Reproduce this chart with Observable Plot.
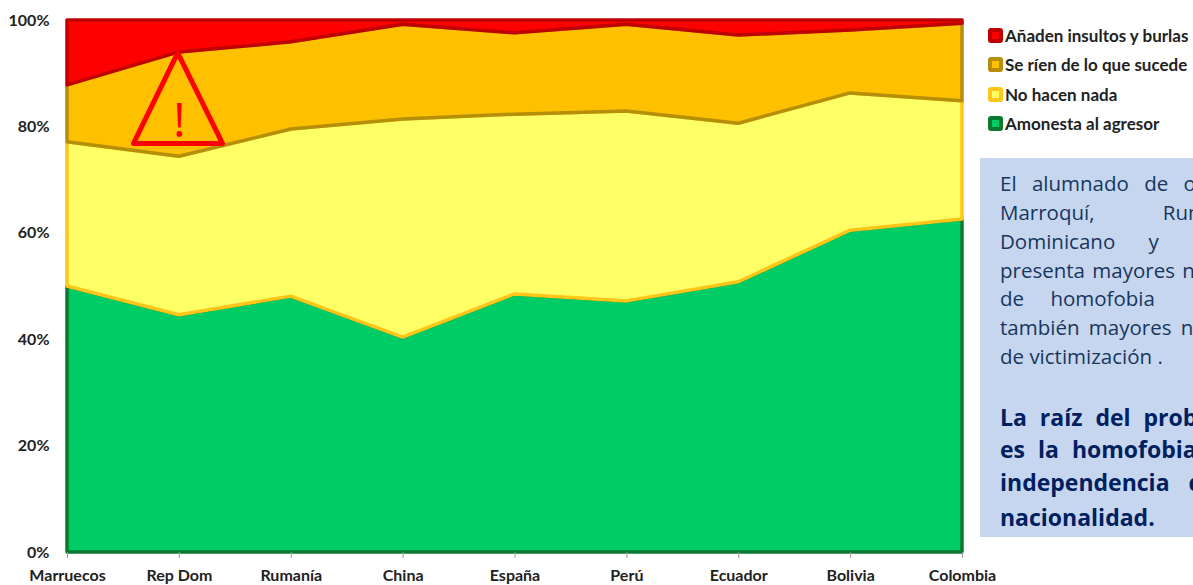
<!DOCTYPE html>
<html lang="es">
<head>
<meta charset="utf-8">
<script src="https://cdn.jsdelivr.net/npm/d3@7"></script>
<script src="https://cdn.jsdelivr.net/npm/@observablehq/plot@0.6"></script>
<style>
html,body{margin:0;padding:0;background:#fff;width:1193px;height:585px;overflow:hidden}
#wrap{position:relative;width:1193px;height:585px;overflow:hidden}
#chart svg{display:block}
#legend{position:absolute;left:988px;top:21px;font:700 17px Lato,sans-serif;color:#222}
.row{display:flex;align-items:center;height:29.3px;white-space:nowrap}
.sw{box-sizing:border-box;width:15px;height:15px;border-width:4px;border-style:solid;border-radius:3px;margin-right:2px;flex:none}
#box{position:absolute;left:980px;top:158px;width:260px;height:379px;background:#c6d6ee}
.l{position:absolute;left:20px;white-space:nowrap}
.n{font:400 20.5px/20px "Open Sans",sans-serif;color:#17375e}
.b{font:700 23px/24px "Open Sans",sans-serif;color:#002060}
</style>
</head>
<body>
<div id="wrap"><div id="chart"></div><div id="legend"></div><div id="box"></div></div>
<script>
const paises = ["Marruecos","Rep Dom","Rumanía","China","España","Perú","Ecuador","Bolivia","Colombia"];
const amonesta = [50.0,44.6,48.1,40.4,48.5,47.2,50.8,60.5,62.6];
const noHacen  = [27.1,29.8,31.4,41.0,33.8,35.7,29.8,25.8,22.2];
const seRien   = [10.7,19.6,16.4,17.8,15.3,16.3,16.6,11.8,14.6];
const anaden   = [12.2, 6.0, 4.1, 0.8, 2.4, 0.8, 2.8, 1.9, 0.6];
const pctTicks = [0,20,40,60,80,100];

const seriesNames = ["Amonesta al agresor","No hacen nada","Se ríen de lo que sucede","Añaden insultos y burlas"];
const seriesValues = [amonesta,noHacen,seRien,anaden];
const fills   = ["#00cc66","#ffff66","#ffc000","#ff0000"];
const strokes = ["#0b7a30","#ffc61a","#b58f0a","#c00000"];

const rows = seriesNames.flatMap((s,k)=>paises.map((p,i)=>({serie:s,k,i,v:seriesValues[k][i]})));

// Triangle annotation, in chart units (country index, percent)
const triX = [0.985,0.59,1.385,0.985];
const triY = [93.9,76.9,76.9,93.9];
const triangulo = triX.map((x,i)=>({x,y:triY[i]}));

const plot = Plot.plot({
  width:1193,height:585,marginLeft:67,marginRight:231,marginTop:20,marginBottom:33,
  style:{fontFamily:"Lato, sans-serif",fontSize:"16px",fontWeight:700,color:"#222",background:"#fff"},
  x:{domain:[0,8]},
  y:{domain:[0,100]},
  color:{type:"identity"},
  marks:[
    Plot.areaY(rows,Plot.stackY({
      x:"i",y:"v",z:"serie",fill:d=>fills[d.k],stroke:d=>strokes[d.k],strokeWidth:3.5
    })),
    Plot.line(triangulo,{x:"x",y:"y",stroke:"#ff0000",strokeWidth:5,strokeLinejoin:"round",strokeLinecap:"round"}),
    Plot.text(["!"],{x:[1],y:[81],fill:"#ff0000",fontSize:48,fontWeight:400,fontFamily:"Open Sans, sans-serif"}),
    Plot.axisX({ticks:d3.range(paises.length),tickFormat:i=>paises[i],tickSize:6,tickPadding:11,stroke:"#999",label:null,fill:"#222"}),
    Plot.axisY({ticks:pctTicks,tickFormat:d=>d+"%",tickSize:0,tickPadding:18,label:null,fill:"#222"})
  ]
});
document.getElementById("chart").append(plot);

// Legend
const legendOrder = [3,2,1,0];
const legend = document.getElementById("legend");
for(const k of legendOrder){
  const r=document.createElement("div");r.className="row";
  const sw=document.createElement("span");sw.className="sw";sw.style.background=fills[k];sw.style.borderColor=strokes[k];
  const t=document.createElement("span");t.textContent=seriesNames[k];
  r.append(sw,t);legend.append(r);
}

// Text box: cut off by the right edge of the picture in the reference
const lineas = [
 ["n","El alumnado de o",15,"10px"],
 ["n","Marroquí, Rum",44,"63px"],
 ["n","Dominicano y",73,"28px"],
 ["n","presenta mayores n",102,"2px"],
 ["n","de homofobia",130,"21px"],
 ["n","también mayores n",159,"4px"],
 ["n","de victimización .",188,"0px"],
 ["b","La raíz del prob",247,"7px"],
 ["b","es la homofobia",279,"7px"],
 ["b","independencia d",312,"13px"],
 ["b","nacionalidad.",347,"0px"]
];
const box=document.getElementById("box");
for(const [c,t,y,ws] of lineas){
  const d=document.createElement("div");d.className="l "+c;d.textContent=t;d.style.top=y+"px";d.style.wordSpacing=ws;box.append(d);
}
</script>
</body>
</html>
